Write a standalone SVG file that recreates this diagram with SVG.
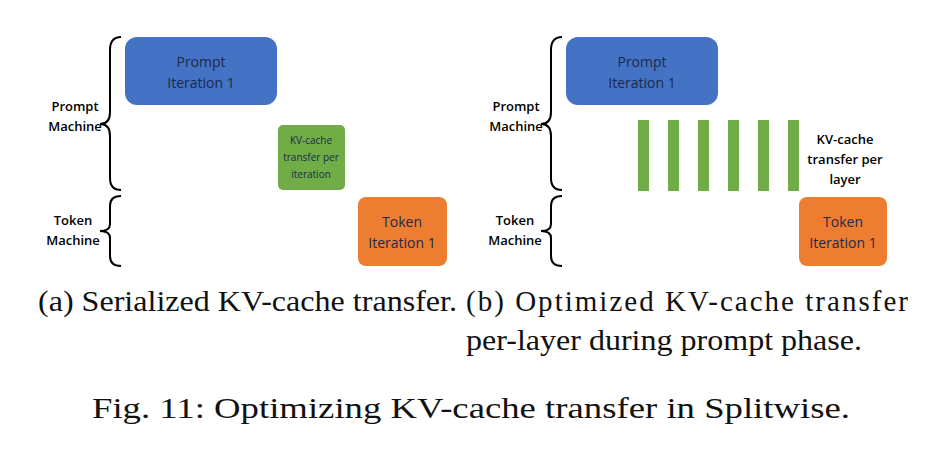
<svg xmlns="http://www.w3.org/2000/svg" width="929" height="451" viewBox="0 0 929 451">
<style>
.lbl{font-family:"Open Sans","Liberation Sans",sans-serif;font-size:13px;fill:#000;text-anchor:middle;font-weight:600}
.bx{font-family:"Open Sans","Liberation Sans",sans-serif;font-size:14px;fill:#1b2a4a;text-anchor:middle}
.sm{font-family:"Open Sans","Liberation Sans",sans-serif;font-size:10px;fill:#1b2a4a;text-anchor:middle}
.cap{font-family:"Liberation Serif",serif;font-size:29px;fill:#111}
.br{fill:none;stroke:#000;stroke-width:2}
.blue{fill:#4472C4}.green{fill:#70AD47}.orange{fill:#ED7D31}
</style>
<rect width="929" height="451" fill="#fff"/>
<g id="a-prompt-machine"><path class="br" d="M121,37 Q110,37 110,50 L110,112 Q110,124 100,124 Q110,124 110,136 L110,178 Q110,190 121,190"/><text class="lbl" x="75" y="111">Prompt</text><text class="lbl" x="75" y="131">Machine</text></g>
<g id="a-token-machine"><path class="br" d="M121,196 Q110,196 110,206 L110,224 Q110,231 100,231 Q110,231 110,238 L110,256 Q110,266 121,266"/><text class="lbl" x="73" y="225">Token</text><text class="lbl" x="73" y="245">Machine</text></g>
<g id="a-prompt"><rect class="blue" x="125" y="37" width="152" height="68" rx="12"/><text class="bx" x="201" y="67">Prompt</text><text class="bx" x="201" y="88">Iteration 1</text></g>
<g id="a-kv"><rect class="green" x="278" y="125" width="67" height="65" rx="5"/><text class="sm" x="311" y="144">KV-cache</text><text class="sm" x="311" y="161">transfer per</text><text class="sm" x="311" y="178">iteration</text></g>
<g id="a-token"><rect class="orange" x="358" y="197" width="89" height="69" rx="8"/><text class="bx" x="402" y="227">Token</text><text class="bx" x="402" y="248">Iteration 1</text></g>

<g id="b-prompt-machine"><path class="br" d="M562,37 Q551,37 551,50 L551,112 Q551,124 541,124 Q551,124 551,136 L551,178 Q551,190 562,190"/><text class="lbl" x="516" y="111">Prompt</text><text class="lbl" x="516" y="131">Machine</text></g>
<g id="b-token-machine"><path class="br" d="M562,196 Q551,196 551,206 L551,224 Q551,231 541,231 Q551,231 551,238 L551,256 Q551,266 562,266"/><text class="lbl" x="515" y="225">Token</text><text class="lbl" x="515" y="245">Machine</text></g>
<g id="b-prompt"><rect class="blue" x="566" y="37" width="152" height="68" rx="12"/><text class="bx" x="642" y="67">Prompt</text><text class="bx" x="642" y="88">Iteration 1</text></g>
<g id="b-kv"><rect class="green" x="638" y="120" width="11" height="71"/><rect class="green" x="668" y="120" width="11" height="71"/><rect class="green" x="698" y="120" width="11" height="71"/><rect class="green" x="728" y="120" width="11" height="71"/><rect class="green" x="758" y="120" width="11" height="71"/><rect class="green" x="788" y="120" width="11" height="71"/>
<text class="lbl" x="845" y="144">KV-cache</text><text class="lbl" x="845" y="164">transfer per</text><text class="lbl" x="845" y="184">layer</text></g>
<g id="b-token"><rect class="orange" x="799" y="197" width="88" height="69" rx="8"/><text class="bx" x="843" y="227">Token</text><text class="bx" x="843" y="248">Iteration 1</text></g>

<g id="connectors"/>
<text class="cap" x="38" y="311" textLength="419" lengthAdjust="spacingAndGlyphs">(a) Serialized KV-cache transfer.</text>
<text class="cap" x="466" y="311" textLength="442" lengthAdjust="spacing">(b) Optimized KV-cache transfer</text>
<text class="cap" x="466" y="350" textLength="396" lengthAdjust="spacingAndGlyphs">per-layer during prompt phase.</text>
<text class="cap" x="92" y="418" textLength="758" lengthAdjust="spacingAndGlyphs">Fig. 11: Optimizing KV-cache transfer in Splitwise.</text>
</svg>
